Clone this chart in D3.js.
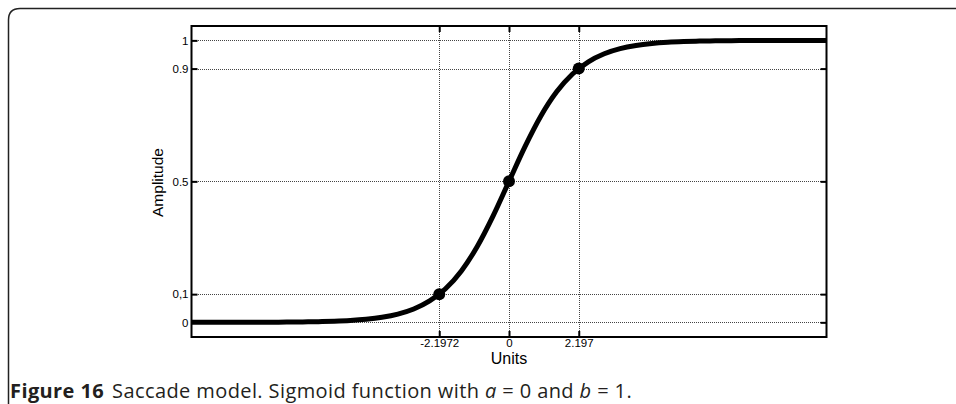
<!DOCTYPE html>
<html>
<head>
<meta charset="utf-8">
<script src="https://cdn.jsdelivr.net/npm/d3@7"></script>
<style>
  html, body { margin: 0; padding: 0; background: #fff; }
  svg { display: block; }
</style>
</head>
<body>
<svg id="chart" width="956" height="404"></svg>
<script>
// ---- data ----
const units = [-10,-9.5,-9,-8.5,-8,-7.5,-7,-6.5,-6,-5.5,-5,-4.5,-4,-3.5,-3,-2.5,-2,-1.5,-1,-0.5,
               0,0.5,1,1.5,2,2.5,3,3.5,4,4.5,5,5.5,6,6.5,7,7.5,8,8.5,9,9.5,10];
const amplitude = [0.0000,0.0001,0.0001,0.0002,0.0003,0.0006,0.0009,0.0015,0.0025,0.0041,
                   0.0067,0.0110,0.0180,0.0293,0.0474,0.0759,0.1192,0.1824,0.2689,0.3775,
                   0.5000,0.6225,0.7311,0.8176,0.8808,0.9241,0.9526,0.9707,0.9820,0.9890,
                   0.9933,0.9959,0.9975,0.9985,0.9991,0.9994,0.9997,0.9998,0.9999,0.9999,1.0000];
const markerUnits = [-2.1972, 0, 2.197];
const markerAmp = [0.1, 0.5, 0.9];
const xTickValues = [-2.1972, 0, 2.197];
const xTickLabels = ["-2.1972", "0", "2.197"];
const yTickValues = [0, 0.1, 0.5, 0.9, 1];
const yTickLabels = ["0", "0,1", "0.5", "0.9", "1"];
const xLabel = "Units";
const yLabel = "Amplitude";
const captionBold = "Figure 16";

// ---- layout ----
const svg = d3.select("#chart");
const L = 191.5, R = 826.5, T = 26, B = 337;
const x = d3.scaleLinear().domain([-10, 10]).range([L, R]);
const y = d3.scaleLinear().domain([-0.052, 1.051]).range([B, T]);

// card border (rounded top-left)
svg.append("path")
  .attr("d", `M8.5,404 L8.5,20 Q8.5,8.5 20,8.5 L956,8.5`)
  .attr("fill", "none").attr("stroke", "#222").attr("stroke-width", 1.5);

// grid
const grid = svg.append("g").attr("stroke", "#444").attr("stroke-width", 1)
  .attr("stroke-dasharray", "1,1").attr("fill", "none");
grid.selectAll("line.gy").data(yTickValues).join("line")
  .attr("x1", Math.round(L)).attr("x2", Math.round(R))
  .attr("y1", d => Math.round(y(d)) + 0.5).attr("y2", d => Math.round(y(d)) + 0.5);
grid.selectAll("line.gx").data(xTickValues).join("line")
  .attr("y1", T).attr("y2", B)
  .attr("x1", d => Math.round(x(d)) + 0.5).attr("x2", d => Math.round(x(d)) + 0.5);

// axes
const fmtY = d => yTickLabels[yTickValues.indexOf(d)];
const fmtX = d => xTickLabels[xTickValues.indexOf(d)];
function styleAxis(g) {
  g.select(".domain").remove();
  g.selectAll(".tick line").attr("stroke", "#000").attr("stroke-width", 2);
  g.selectAll("text").attr("font-family", "Liberation Sans, Arial, sans-serif")
    .attr("font-size", 11.5).attr("fill", "#000");
}
svg.append("g").attr("transform", `translate(${L},0)`)
  .call(d3.axisLeft(y).tickValues(yTickValues).tickFormat(fmtY).tickSize(-6).tickPadding(3))
  .call(styleAxis);
svg.append("g").attr("transform", `translate(${R},0)`)
  .call(d3.axisRight(y).tickValues(yTickValues).tickFormat("").tickSize(-6))
  .call(styleAxis);
svg.append("g").attr("transform", `translate(0,${B})`)
  .call(d3.axisBottom(x).tickValues(xTickValues).tickFormat(fmtX).tickSize(-6).tickPadding(2))
  .call(styleAxis);
svg.append("g").attr("transform", `translate(0,${T})`)
  .call(d3.axisTop(x).tickValues(xTickValues).tickFormat("").tickSize(-6))
  .call(styleAxis);

// frame
svg.append("rect").attr("x", L).attr("y", T).attr("width", R - L).attr("height", B - T)
  .attr("fill", "none").attr("stroke", "#000").attr("stroke-width", 2);

// curve
const data = units.map((u, i) => ({u, a: amplitude[i]}));
svg.append("path").datum(data)
  .attr("d", d3.line().x(d => x(d.u)).y(d => y(d.a)).curve(d3.curveMonotoneX))
  .attr("fill", "none").attr("stroke", "#000").attr("stroke-width", 5)
  .attr("stroke-linejoin", "round");

// markers
svg.selectAll("circle.m").data(markerUnits.map((u, i) => ({u, a: markerAmp[i]}))).join("circle")
  .attr("cx", d => x(d.u)).attr("cy", d => y(d.a)).attr("r", 6).attr("fill", "#000");

// axis titles
svg.append("text").attr("x", (L + R) / 2).attr("y", 364).attr("text-anchor", "middle")
  .attr("font-family", "Liberation Sans, Arial, sans-serif").attr("font-size", 16).text(xLabel);
svg.append("text").attr("transform", `translate(163,${(T + B) / 2 + 1}) rotate(-90)`)
  .attr("text-anchor", "middle")
  .attr("font-family", "Liberation Sans, Arial, sans-serif").attr("font-size", 15.5).text(yLabel);

// caption
const cap = svg.append("text").attr("x", 10).attr("y", 398)
  .attr("font-family", "Open Sans, Noto Sans, sans-serif").attr("font-size", 20)
  .attr("letter-spacing", 0.4).attr("fill", "#231f20");
cap.append("tspan").attr("font-weight", "bold").text(captionBold);
cap.append("tspan").attr("dx", 8).text("Saccade model. Sigmoid function with ");
cap.append("tspan").attr("font-style", "italic").text("a");
cap.append("tspan").text(" = 0 and ");
cap.append("tspan").attr("font-style", "italic").text("b");
cap.append("tspan").text(" = 1.");
</script>
</body>
</html>
